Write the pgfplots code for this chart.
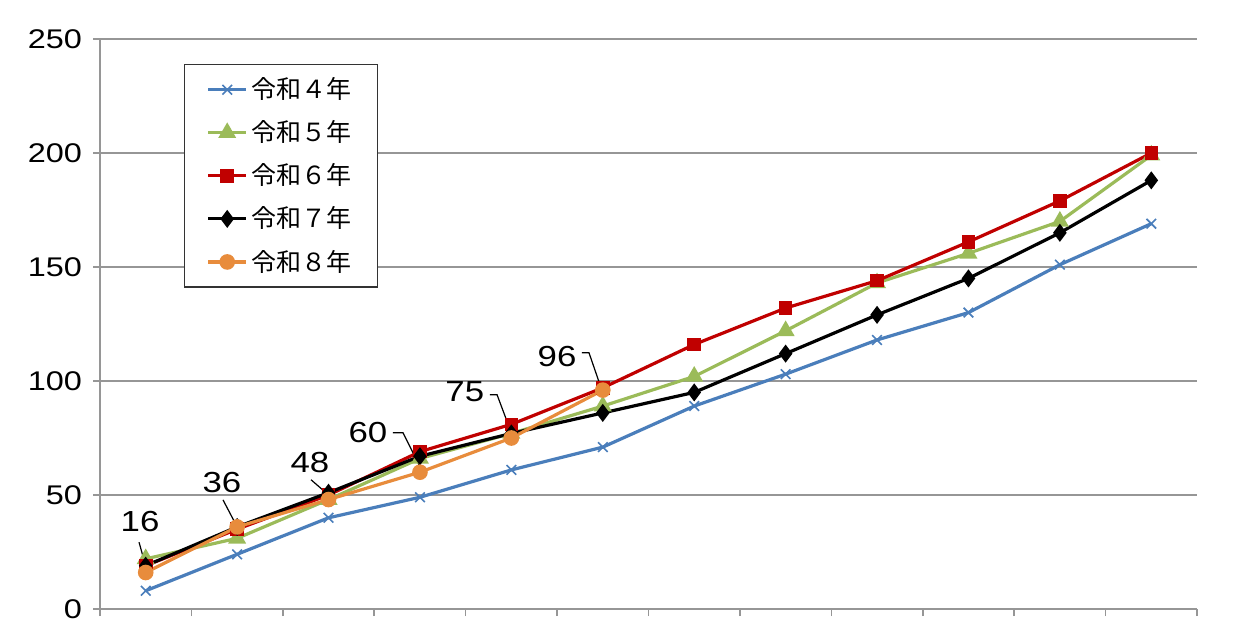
\documentclass[border=0pt]{standalone}
\usepackage{pgfplots}
\pgfplotsset{compat=1.18}
\usepackage{fontspec}
\setmainfont{Noto Sans CJK JP}
\newfontfamily\numfont[FakeStretch=1.2]{Liberation Sans}
\usetikzlibrary{calc}
\definecolor{cblue}{RGB}{74,126,187}
\definecolor{cgreen}{RGB}{155,187,89}
\definecolor{cred}{RGB}{192,0,0}
\definecolor{corange}{RGB}{232,140,60}
\definecolor{cgrid}{RGB}{150,150,150}
\begin{document}
\begin{tikzpicture}
\begin{axis}[name=ax,
  scale only axis, width=548.5bp, height=285bp,
  xmin=0.5, xmax=12.5, ymin=0, ymax=250,
  axis x line=bottom, axis y line=left,
  axis line style={-, draw=cgrid, line width=0.8bp},
  xtick={0.5,1.5,...,12.5}, xticklabels={},
  ytick={0,50,...,250},
  ymajorgrids, grid style={draw=cgrid, line width=0.8bp},
  tick style={draw=cgrid, line width=0.8bp},
  major tick length=3.5bp,
  tick align=outside,
  /pgf/number format/assume math mode=true,
  yticklabel style={font=\numfont\fontsize{13.5bp}{15bp}\selectfont, xshift=-2bp},
  legend style={at={(0.0766,0.956)}, anchor=north west, draw=black!80, line width=0.6bp,
    font=\fontsize{12.5bp}{14bp}\selectfont, row sep=5.5bp, inner xsep=11bp, inner ysep=4.5bp},
  legend cell align=left,
  legend image code/.code={\draw[mark repeat=2,mark phase=2] plot coordinates {(0bp,0bp)(9.5bp,0bp)(19bp,0bp)};},
  every axis plot/.append style={line width=1.6bp},
]
\addplot[color=cblue, mark=x, mark size=3.4bp, mark options={line width=0.8bp}] coordinates {
 (1,8) (2,24) (3,40) (4,49) (5,61) (6,71) (7,89) (8,103) (9,118) (10,130) (11,151) (12,169)};
\addlegendentry{令和４年}
\addplot[color=cgreen, mark=triangle*, mark size=3.6bp] coordinates {
 (1,22) (2,31) (3,48) (4,66) (5,77) (6,89) (7,102) (8,122) (9,143) (10,156) (11,170) (12,199)};
\addlegendentry{令和５年}
\addplot[color=cred, mark=square*, mark size=2.6bp] coordinates {
 (1,19) (2,35) (3,50) (4,69) (5,81) (6,97) (7,116) (8,132) (9,144) (10,161) (11,179) (12,200)};
\addlegendentry{令和６年}
\addplot[color=black, mark=diamond*, mark size=3.2bp] coordinates {
 (1,19) (2,36) (3,51) (4,67) (5,77) (6,86) (7,95) (8,112) (9,129) (10,145) (11,165) (12,188)};
\addlegendentry{令和７年}
\addplot[color=corange, mark=*, mark size=3.1bp] coordinates {
 (1,16) (2,36) (3,48) (4,60) (5,75) (6,96)};
\addlegendentry{令和８年}
% data labels
\begin{scope}[every node/.style={font=\numfont\fontsize{14.5bp}{16bp}\selectfont, inner sep=0pt}]
\node at (axis cs:0.938,38.3) {16};
\node at (axis cs:1.834,55.4) {36};
\node at (axis cs:2.797,64.2) {48};
\node at (axis cs:3.43,77.3) {60};
\node at (axis cs:4.49,95.3) {75};
\node at (axis cs:5.50,110.7) {96};
\end{scope}
\begin{scope}[line width=0.6bp, draw=black]
\draw (axis cs:0.927,29.3) -- (axis cs:1.014,16.8);
\draw (axis cs:1.845,47.9) -- (axis cs:1.999,36.1);
\draw (axis cs:2.808,56.7) -- (axis cs:2.972,51.0);
\draw (axis cs:3.705,77.3) -- (axis cs:3.814,77.3) -- (axis cs:4.0,62.4);
\draw (axis cs:4.766,94) -- (axis cs:4.843,94) -- (axis cs:5.007,76.5);
\draw (axis cs:5.772,112.4) -- (axis cs:5.849,112.4) -- (axis cs:5.969,98.4);
\end{scope}
\end{axis}
\pgfresetboundingbox
\path ($(ax.south west)+(-50bp,-6bp)$) rectangle ($(ax.north east)+(21.5bp,19.5bp)$);
\end{tikzpicture}
\end{document}
